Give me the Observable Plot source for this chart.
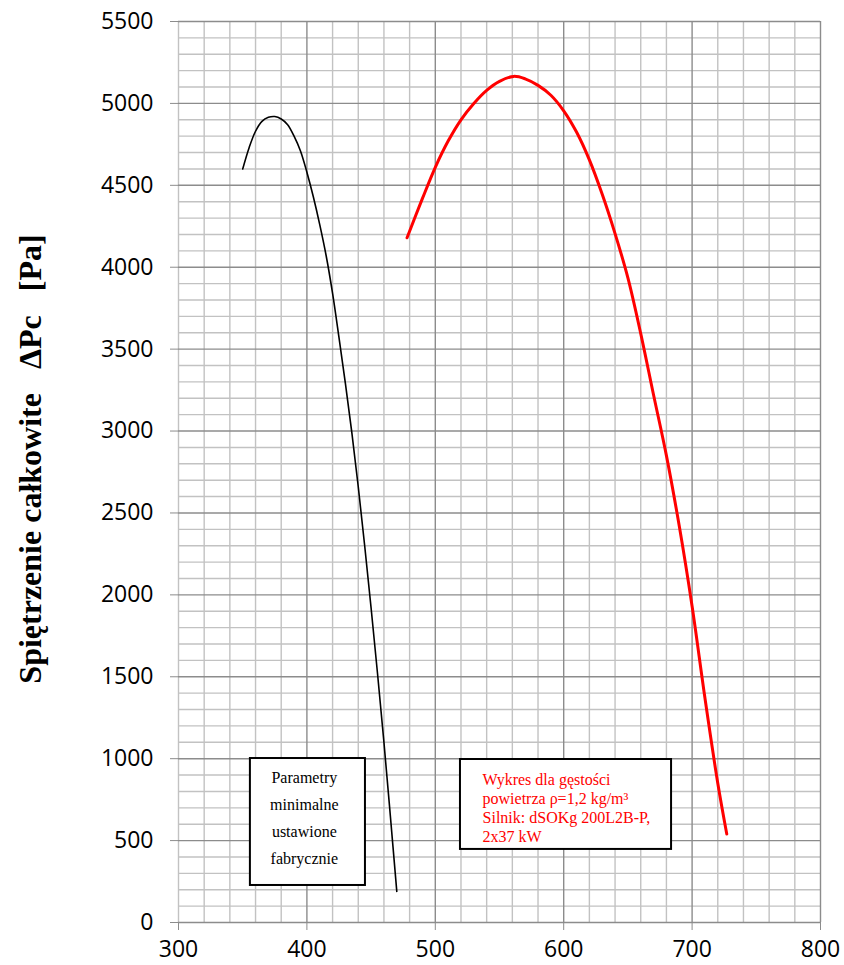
<!DOCTYPE html>
<html>
<head>
<meta charset="utf-8">
<script src="https://cdn.jsdelivr.net/npm/d3@7"></script>
<script src="https://cdn.jsdelivr.net/npm/@observablehq/plot@0.6"></script>
<style>
  html, body { margin: 0; padding: 0; background: #fff; }
  #chart { width: 844px; height: 965px; }
</style>
</head>
<body>
<div id="chart"></div>
<script>
// ---- data ----
const blackX = [350, 355, 360, 365, 370, 375, 380, 385, 390, 395, 400, 405, 410, 415, 420, 425, 430, 435, 440, 445, 450, 455, 460, 465, 470];
const blackY = [4600, 4730, 4830, 4890, 4915, 4920, 4905, 4870, 4800, 4710, 4580, 4430, 4260, 4070, 3840, 3570, 3290, 2990, 2660, 2300, 1920, 1520, 1100, 650, 190];

const redX = [478, 490, 500, 510, 520, 530, 540, 550, 561, 570, 580, 590, 600, 610, 620, 630, 640, 650, 660, 670, 680, 690, 700, 710, 720, 727];
const redY = [4180, 4420, 4610, 4770, 4900, 5000, 5080, 5135, 5165, 5150, 5110, 5050, 4955, 4825, 4655, 4445, 4205, 3935, 3595, 3220, 2850, 2420, 1930, 1370, 850, 540];

const xTicks = [300, 400, 500, 600, 700, 800];
const yTicks = [0, 500, 1000, 1500, 2000, 2500, 3000, 3500, 4000, 4500, 5000, 5500];
const xMinorStep = 20;
const yMinorStep = 100;

const yTitle = "Spiętrzenie całkowite\u00a0\u00a0\u00a0ΔPc\u00a0\u00a0\u00a0[Pa]";
const noteBlack = ["Parametry", "minimalne", "ustawione", "fabrycznie"];
const noteRed = ["Wykres dla gęstości", "powietrza ρ=1,2 kg/m³", "Silnik: dSOKg 200L2B-P,", "2x37 kW"];

// annotation boxes (data units)
const boxBlack = {x1: 356, x2: 445.6, y1: 226, y2: 1001};
const boxRed = {x1: 519.6, x2: 684, y1: 446, y2: 995};

// ---- build ----
const blackData = blackX.map((x, i) => ({x, y: blackY[i]}));
const redData = redX.map((x, i) => ({x, y: redY[i]}));
const xMinor = d3.range(300, 801, xMinorStep).filter(v => v % 100 !== 0 || v === 300);
const yMinor = d3.range(0, 5501, yMinorStep).filter(v => v % 500 !== 0);
const xMajor = xTicks.filter(v => v !== 300);

const serif = "'Liberation Serif', 'Times New Roman', serif";

const chart = Plot.plot({
  width: 844,
  height: 965,
  marginTop: 21,
  marginBottom: 43,
  marginLeft: 178,
  marginRight: 24,
  x: {domain: [300, 800]},
  y: {domain: [0, 5500]},
  style: {fontFamily: "'Open Sans', sans-serif", fontSize: "23px", background: "white", color: "black"},
  marks: [
    Plot.ruleX(xMinor, {stroke: "#c2c2c2", strokeWidth: 1.4}),
    Plot.ruleY(yMinor, {stroke: "#c2c2c2", strokeWidth: 1.4}),
    Plot.ruleX(xMajor, {stroke: "#8c8c8c", strokeWidth: 1.4}),
    Plot.ruleY(yTicks, {stroke: "#8c8c8c", strokeWidth: 1.4}),
    Plot.axisX({ticks: xTicks, tickSize: 8, tickPadding: 10, stroke: "#8c8c8c", fill: "black", label: null, tickFormat: d => String(d)}),
    Plot.axisY({ticks: yTicks, tickSize: 8, tickPadding: 17, stroke: "#8c8c8c", fill: "black", label: null, tickFormat: d => String(d)}),
    Plot.rect([boxBlack], {x1: "x1", x2: "x2", y1: "y1", y2: "y2", fill: "white", stroke: "black", strokeWidth: 2}),
    Plot.rect([boxRed], {x1: "x1", x2: "x2", y1: "y1", y2: "y2", fill: "white", stroke: "black", strokeWidth: 2}),
    Plot.text([noteBlack.join("\n")], {x: () => 398, y: () => 659, text: d => d, fontFamily: serif, fontSize: 16, lineHeight: 1.69, lineAnchor: "middle", textAnchor: "middle", fill: "black"}),
    Plot.text([noteRed.join("\n")], {x: () => 536.8, y: () => 702, text: d => d, fontFamily: serif, fontSize: 16, lineHeight: 1.19, lineAnchor: "middle", textAnchor: "start", fill: "#ff0000"}),
    Plot.line(blackData, {x: "x", y: "y", stroke: "black", strokeWidth: 1.6, curve: "catmull-rom"}),
    Plot.line(redData, {x: "x", y: "y", stroke: "#ff0000", strokeWidth: 3, curve: "catmull-rom"}),
    Plot.text([yTitle], {frameAnchor: "left", textAnchor: "middle", lineAnchor: "middle", dx: -148, dy: -13, rotate: -90, fontWeight: "bold", fontFamily: serif, fontSize: 32, fill: "black"})
  ]
});
document.getElementById("chart").appendChild(chart);
</script>
</body>
</html>
